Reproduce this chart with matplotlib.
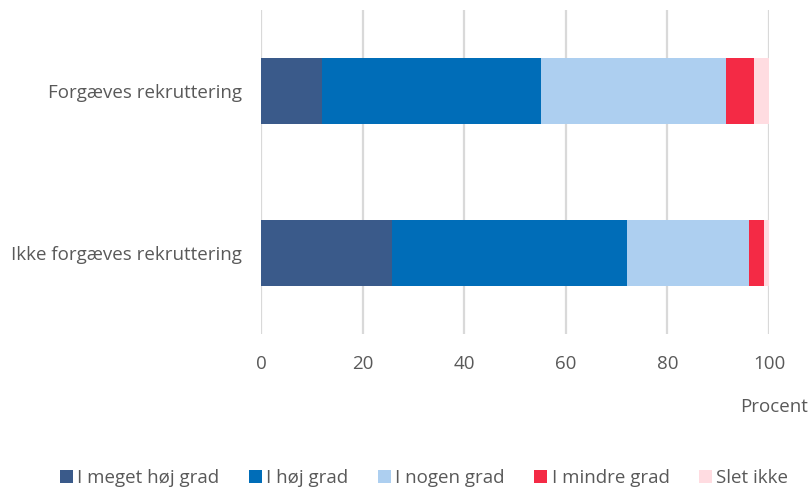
import matplotlib.pyplot as plt
import numpy as np

plt.rcParams['font.family'] = ['Open Sans', 'DejaVu Sans']

# Data (percent)
categories = ["Ikke forgæves rekruttering", "Forgæves rekruttering"]
series_names = ["I meget høj grad", "I høj grad", "I nogen grad", "I mindre grad", "Slet ikke"]
meget_hoej = [25.8, 12.0]
hoej = [46.2, 43.1]
nogen = [24.0, 36.4]
mindre = [3.0, 5.6]
slet_ikke = [1.0, 2.9]
colors = ["#3A5A8A", "#006DB8", "#ADCFF0", "#F42A45", "#FFDCE1"]
xticks = [0, 20, 40, 60, 80, 100]

text_col = "#595959"
fs = 13.5

fig = plt.figure(figsize=(8.12, 4.88), dpi=100)
ax = fig.add_axes([261/812, 1 - 334/488, 508/812, 324/488])

y = np.arange(len(categories))
left = np.zeros(len(categories))
for name, vals, c in zip(series_names, [meget_hoej, hoej, nogen, mindre, slet_ikke], colors):
    ax.barh(y, vals, left=left, height=0.41, color=c, label=name, zorder=3)
    left += np.array(vals)

ax.set_xlim(0, 100)
ax.set_ylim(-0.5, 1.5)
ax.set_xticks(xticks)
ax.set_yticks(y)
ax.set_yticklabels(categories)
ax.grid(axis='x', color="#D9D9D9", linewidth=1.6, zorder=0)
for s in ax.spines.values():
    s.set_visible(False)
ax.tick_params(axis='both', length=0, colors=text_col, labelsize=fs)
ax.tick_params(axis='x', pad=15)
ax.tick_params(axis='y', pad=14)

fig.text(808/812, 1 - 407/488, "Procent", ha='right', va='center', fontsize=fs, color=text_col)

handles, labels = ax.get_legend_handles_labels()
leg = fig.legend(handles, labels, loc='center', bbox_to_anchor=(424/812, 1 - 478/488), ncol=5,
                 frameon=False, fontsize=fs, handlelength=0.7, handleheight=0.7,
                 handletextpad=0.25, columnspacing=1.55, labelcolor=text_col)

fig.savefig("out.png", dpi=100)
